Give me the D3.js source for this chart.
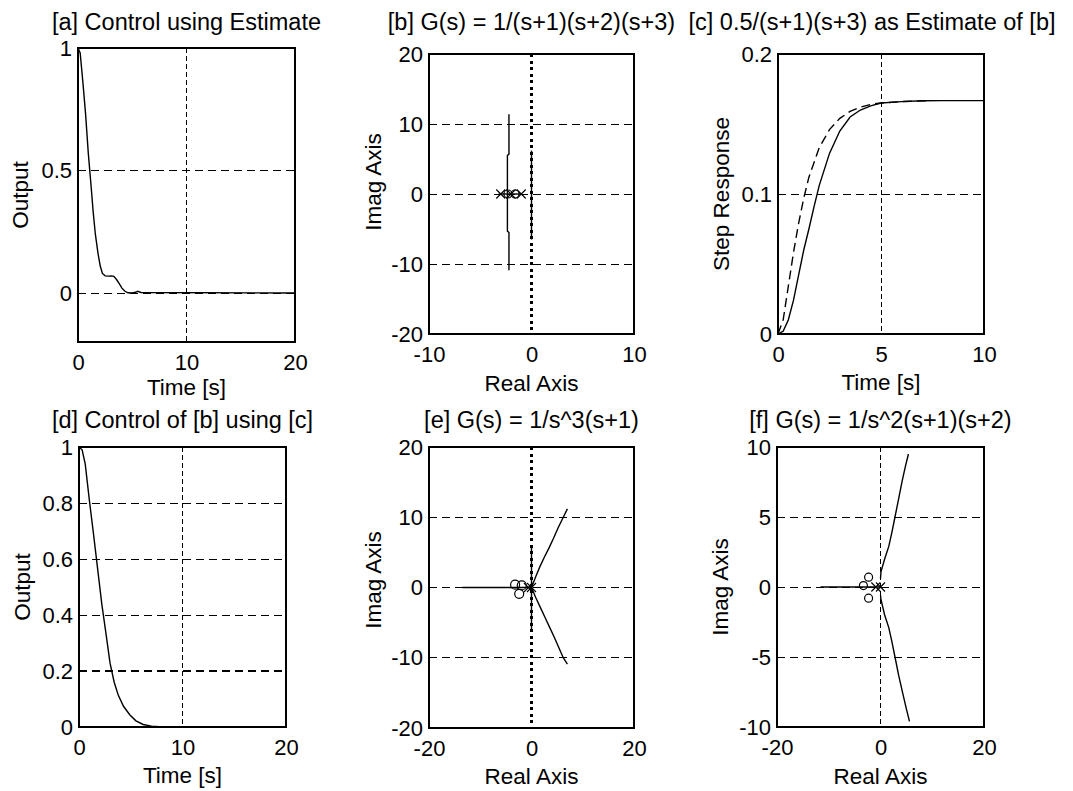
<!DOCTYPE html>
<meta charset="utf-8">
<style>

body {
  margin: 0;
  background: #fff;
}

text {
  font-family: "Liberation Sans", Arial, sans-serif;
  fill: #000;
}

.title {
  font-size: 23.5px;
}

.label {
  font-size: 22.5px;
}

.tick text {
  font-family: "Liberation Sans", Arial, sans-serif;
  font-size: 22px;
  fill: #000;
}

.curve {
  fill: none;
  stroke: #000;
  stroke-width: 1.4;
}

.grid, .frame {
  shape-rendering: crispEdges;
}

</style>
<svg width="1073" height="791"></svg>
<script src="https://d3js.org/d3.v7.min.js"></script>
<script>

// ---- tick labels ----
var timeTicks20 = [0, 10, 20],
    timeTicks10 = [0, 5, 10],
    realTicks10 = [-10, 0, 10],
    realTicks20 = [-20, 0, 20],
    imagTicks20 = [-20, -10, 0, 10, 20],
    imagTicks10 = [-10, -5, 0, 5, 10],
    outTicksA = [0, 0.5, 1],
    outTicksD = [0, 0.2, 0.4, 0.6, 0.8, 1],
    stepTicks = [0, 0.1, 0.2];

// ---- [a] control using estimate ----
var aTime   = [0, 0.2, 0.45, 0.7, 0.95, 1.2, 1.4, 1.6, 1.85, 2.05, 2.25, 2.5, 2.8, 3.1, 3.3, 3.55, 3.8, 4.05, 4.3, 4.6, 5.0, 5.3, 5.5, 5.8, 20];
var aOutput = [1, 0.98, 0.86, 0.73, 0.57, 0.44, 0.33, 0.24, 0.16, 0.11, 0.08, 0.07, 0.069, 0.07, 0.068, 0.055, 0.038, 0.02, 0.008, 0.001, 0, 0.003, 0.007, 0.002, 0];

// ---- [c] step responses ----
var cTime    = [0, 0.25, 0.5, 0.75, 1, 1.25, 1.5, 1.75, 2, 2.5, 3, 3.5, 4, 4.5, 5, 6, 7, 8, 10];
var cTrue    = [0, 0.002, 0.01, 0.024, 0.042, 0.06, 0.075, 0.091, 0.106, 0.129, 0.145, 0.155, 0.16, 0.163, 0.165, 0.166, 0.1666, 0.1667, 0.1667];
var cEstTime = [0, 0.25, 0.5, 0.75, 1, 1.25, 1.5, 2, 2.5, 3, 3.5, 4, 4.5, 5, 6, 7.2];
var cEst     = [0, 0.01, 0.034, 0.058, 0.079, 0.097, 0.112, 0.133, 0.146, 0.154, 0.159, 0.162, 0.164, 0.165, 0.166, 0.1665];

// ---- [d] control of [b] using [c] ----
var dTime   = [0, 0.3, 0.6, 1.0, 1.4, 1.8, 2.2, 2.6, 3.0, 3.4, 3.8, 4.3, 4.9, 5.5, 6.2, 7.0, 8.2];
var dOutput = [1, 0.99, 0.94, 0.81, 0.69, 0.565, 0.44, 0.335, 0.228, 0.16, 0.113, 0.074, 0.044, 0.022, 0.009, 0.003, 0];

// ---- [b] root locus ----
var bBranchRe = [-2.2, -2.2, -2.35, -2.35, -2.2, -2.2];
var bBranchIm = [11.4, 5.7, 5.5, -5.3, -5.5, -10.9];
var bRealRe = [-3.2, -1], bRealIm = [0, 0];
var bAxisRe = [0, 0], bAxisIm = [6.2, -6.5];
var bPolesRe = [-3, -2, -1], bPolesIm = [0, 0, 0];
var bZerosRe = [-2.3, -1.6], bZerosIm = [0, 0];

// ---- [e] root locus ----
var eRealRe = [-13.5, 0], eRealIm = [0, 0];
var eUpperRe = [0, 0.8, 1.6, 2.5, 3.4, 4.3, 5.2, 6.2, 7.0];
var eUpperIm = [0, 1.5, 2.9, 4.3, 5.6, 7.0, 8.5, 10, 11.2];
var eLowerRe = [0, 0.8, 1.7, 2.6, 3.5, 4.4, 5.3, 6.2, 7.0];
var eLowerIm = [0, -1.4, -2.8, -4.2, -5.6, -7.0, -8.5, -10, -10.9];
var eAxisRe = [0, 0], eAxisIm = [5.9, -6.3];
var ePolesRe = [0, -0.6], ePolesIm = [0, 0];
var eZerosRe = [-3.2, -2.4, -1.9], eZerosIm = [0.4, -0.9, 0.3];

// ---- [f] root locus ----
var fRealRe = [-11.6, 0], fRealIm = [0, 0];
var fUpperRe = [0, 0.1, 0.8, 1.6, 2.2, 2.8, 3.5, 4.2, 4.8, 5.4];
var fUpperIm = [0.6, 1.1, 2.0, 2.9, 3.9, 5.0, 6.3, 7.6, 8.6, 9.5];
var fLowerRe = [0, 0.1, 0.8, 1.6, 2.2, 2.8, 3.5, 4.3, 5.0, 5.6];
var fLowerIm = [-0.6, -0.9, -2.0, -2.9, -3.9, -5.0, -6.3, -7.6, -8.7, -9.6];
var fPolesRe = [0, -0.9], fPolesIm = [0, 0];
var fZerosRe = [-3.3, -2.3, -2.3], fZerosIm = [0.1, 0.7, -0.8];

var svg = d3.select("svg");

function poly(g, x, y, xs, ys, width, dash) {
  var line = d3.line().x(function(d) { return x(d[0]); }).y(function(d) { return y(d[1]); });
  g.append("path")
      .datum(d3.zip(xs, ys))
      .attr("class", "curve")
      .attr("stroke-width", width || 1.4)
      .attr("stroke-dasharray", dash || null)
      .attr("d", line);
}

function crosses(g, x, y, xs, ys) {
  g.selectAll(null).data(d3.zip(xs, ys)).enter().append("path")
      .attr("transform", function(d) { return "translate(" + x(d[0]) + "," + y(d[1]) + ")"; })
      .attr("d", "M-4.5,-4.5L4.5,4.5M-4.5,4.5L4.5,-4.5")
      .attr("stroke", "#000")
      .attr("stroke-width", 1.1);
}

function circles(g, x, y, xs, ys, r) {
  g.selectAll(null).data(d3.zip(xs, ys)).enter().append("circle")
      .attr("cx", function(d) { return x(d[0]); })
      .attr("cy", function(d) { return y(d[1]); })
      .attr("r", r || 4.5)
      .attr("fill", "none")
      .attr("stroke", "#000")
      .attr("stroke-width", 1.2);
}

function panel(p) {
  var g = svg.append("g");
  var x = d3.scaleLinear().domain(p.xDomain).range([p.left, p.right]),
      y = d3.scaleLinear().domain(p.yDomain).range([p.bottom, p.top]);

  // grid lines
  g.selectAll(".hgrid").data(p.hGrid).enter().append("line")
      .attr("class", "grid")
      .attr("x1", p.left).attr("x2", p.right)
      .attr("y1", function(d) { return y(d); }).attr("y2", function(d) { return y(d); })
      .attr("stroke", "#000")
      .attr("stroke-width", function(d) { return d === p.boldH ? 2 : 1; })
      .attr("stroke-dasharray", "8,5");

  g.selectAll(".vgrid").data(p.vGrid).enter().append("line")
      .attr("class", "grid")
      .attr("y1", p.top).attr("y2", p.bottom)
      .attr("x1", function(d) { return x(d); }).attr("x2", function(d) { return x(d); })
      .attr("stroke", "#000")
      .attr("stroke-width", p.dottedZero ? 3 : 1)
      .attr("stroke-dasharray", p.dottedZero ? "3,3.5" : "5,3");

  p.draw(g, x, y);

  // frame
  g.append("rect")
      .attr("class", "frame")
      .attr("x", p.left).attr("y", p.top)
      .attr("width", p.right - p.left).attr("height", p.bottom - p.top)
      .attr("fill", "none").attr("stroke", "#000").attr("stroke-width", 1.5);

  // axes (labels only, like the matlab figure)
  g.append("g")
      .attr("transform", "translate(0," + p.bottom + ")")
      .call(d3.axisBottom(x).tickValues(p.xTicks).tickSize(0).tickPadding(12.5).tickFormat(String))
      .call(function(a) { a.select(".domain").remove(); a.attr("font-size", null).attr("font-family", null); });

  g.append("g")
      .attr("transform", "translate(" + p.left + ",0)")
      .call(d3.axisLeft(y).tickValues(p.yTicks).tickSize(0).tickPadding(6).tickFormat(String))
      .call(function(a) { a.select(".domain").remove(); a.attr("font-size", null).attr("font-family", null); });

  g.append("text")
      .attr("class", "title")
      .attr("x", p.titleX || (p.left + p.right) / 2)
      .attr("y", p.titleY)
      .attr("text-anchor", "middle")
      .text(p.title);

  g.append("text")
      .attr("class", "label")
      .attr("x", (p.left + p.right) / 2)
      .attr("y", p.xlabelY)
      .attr("text-anchor", "middle")
      .text(p.xlabel);

  g.append("text")
      .attr("class", "label")
      .attr("transform", "translate(" + p.ylabelX + "," + p.ylabelY + ") rotate(-90)")
      .attr("text-anchor", "middle")
      .text(p.ylabel);
}

panel({
  left: 78, right: 295, top: 48, bottom: 342,
  xDomain: [0, 20], yDomain: [-0.2, 1],
  xTicks: timeTicks20, yTicks: outTicksA,
  hGrid: [0, 0.5], vGrid: [10],
  title: "[a] Control using Estimate", titleY: 30,
  xlabel: "Time [s]", xlabelY: 395,
  ylabel: "Output", ylabelX: 28, ylabelY: 195,
  draw: function(g, x, y) { poly(g, x, y, aTime, aOutput, 1.5); }
});

panel({
  left: 429, right: 634, top: 54, bottom: 334,
  xDomain: [-10, 10], yDomain: [-20, 20],
  xTicks: realTicks10, yTicks: imagTicks20,
  hGrid: [-10, 0, 10], vGrid: [0], dottedZero: true,
  title: "[b] G(s) = 1/(s+1)(s+2)(s+3)", titleY: 30,
  xlabel: "Real Axis", xlabelY: 391,
  ylabel: "Imag Axis", ylabelX: 381, ylabelY: 182,
  draw: function(g, x, y) {
    poly(g, x, y, bBranchRe, bBranchIm, 1.2);
    poly(g, x, y, bRealRe, bRealIm, 2.2);
    poly(g, x, y, bAxisRe, bAxisIm, 3);
    crosses(g, x, y, bPolesRe, bPolesIm);
    circles(g, x, y, bZerosRe, bZerosIm, 4);
  }
});

panel({
  left: 778, right: 984, top: 54, bottom: 334,
  xDomain: [0, 10], yDomain: [0, 0.2],
  xTicks: timeTicks10, yTicks: stepTicks,
  hGrid: [0.1], vGrid: [5],
  title: "[c] 0.5/(s+1)(s+3) as Estimate of [b]", titleY: 30, titleX: 872,
  xlabel: "Time [s]", xlabelY: 390,
  ylabel: "Step Response", ylabelX: 729, ylabelY: 194,
  draw: function(g, x, y) {
    poly(g, x, y, cTime, cTrue, 1.5);
    poly(g, x, y, cEstTime, cEst, 1.5, "9,5");
  }
});

panel({
  left: 79, right: 286, top: 447, bottom: 727,
  xDomain: [0, 20], yDomain: [0, 1],
  xTicks: timeTicks20, yTicks: outTicksD,
  hGrid: [0.2, 0.4, 0.6, 0.8], boldH: 0.2, vGrid: [10],
  title: "[d] Control of [b] using [c]", titleY: 428,
  xlabel: "Time [s]", xlabelY: 783,
  ylabel: "Output", ylabelX: 30, ylabelY: 587,
  draw: function(g, x, y) { poly(g, x, y, dTime, dOutput, 1.5); }
});

panel({
  left: 429, right: 634, top: 447, bottom: 728,
  xDomain: [-20, 20], yDomain: [-20, 20],
  xTicks: realTicks20, yTicks: imagTicks20,
  hGrid: [-10, 0, 10], vGrid: [0], dottedZero: true,
  title: "[e] G(s) = 1/s^3(s+1)", titleY: 428,
  xlabel: "Real Axis", xlabelY: 784,
  ylabel: "Imag Axis", ylabelX: 381, ylabelY: 580,
  draw: function(g, x, y) {
    poly(g, x, y, eRealRe, eRealIm, 1.6);
    poly(g, x, y, eUpperRe, eUpperIm, 1.2);
    poly(g, x, y, eLowerRe, eLowerIm, 1.2);
    poly(g, x, y, eAxisRe, eAxisIm, 3);
    crosses(g, x, y, ePolesRe, ePolesIm);
    circles(g, x, y, eZerosRe, eZerosIm, 4.5);
  }
});

panel({
  left: 777, right: 984, top: 447, bottom: 727,
  xDomain: [-20, 20], yDomain: [-10, 10],
  xTicks: realTicks20, yTicks: imagTicks10,
  hGrid: [-5, 0, 5], vGrid: [0],
  title: "[f] G(s) = 1/s^2(s+1)(s+2)", titleY: 428,
  xlabel: "Real Axis", xlabelY: 784,
  ylabel: "Imag Axis", ylabelX: 728, ylabelY: 587,
  draw: function(g, x, y) {
    poly(g, x, y, fRealRe, fRealIm, 1.6);
    poly(g, x, y, fUpperRe, fUpperIm, 1.4);
    poly(g, x, y, fLowerRe, fLowerIm, 1.4);
    crosses(g, x, y, fPolesRe, fPolesIm);
    circles(g, x, y, fZerosRe, fZerosIm, 4);
  }
});

</script>
